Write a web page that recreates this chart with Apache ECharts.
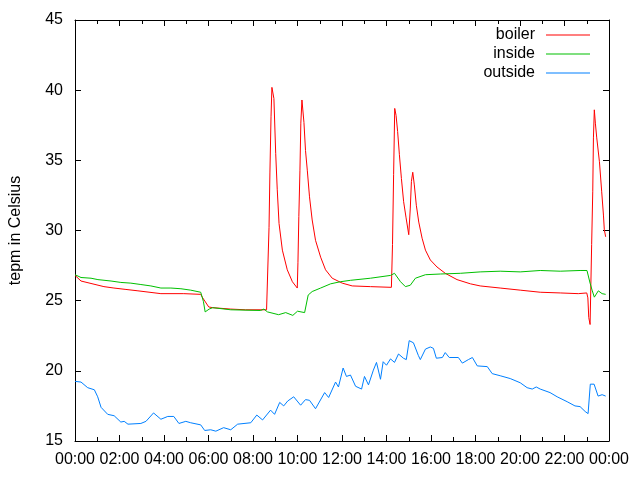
<!DOCTYPE html>
<html>
<head>
<meta charset="utf-8">
<title>temperatures</title>
<script src="https://cdn.jsdelivr.net/npm/echarts@6/dist/echarts.min.js"></script>
<style>
  html, body { margin: 0; padding: 0; background: #fff; }
  #chart { width: 640px; height: 480px; }
</style>
</head>
<body>
<div id="chart"></div>
<script>
  /* hours of the day (0-24) and temperatures */
  var boilerHours = [0.00, 0.04, 0.27, 1.30, 1.75, 2.29, 2.83, 3.86, 4.89, 5.65, 5.74, 6.01, 6.19, 7.00, 7.67, 8.61,
    8.67, 8.72, 8.76, 8.81, 8.85, 8.94, 9.02, 9.09, 9.17, 9.32, 9.54, 9.77, 9.99,
    10.02, 10.06, 10.11, 10.15, 10.20, 10.29, 10.36, 10.44, 10.54, 10.66, 10.81, 11.04, 11.26, 11.56, 12.01, 12.46, 13.28, 14.22,
    14.27, 14.32, 14.37, 14.43, 14.50, 14.58, 14.67, 14.77, 14.88, 15.00, 15.07, 15.12, 15.18, 15.25, 15.34, 15.45, 15.60, 15.75,
    15.97, 16.27, 16.64, 17.17, 17.77, 18.21, 19.11, 20.01, 20.91, 21.81, 22.62, 23.00, 23.05, 23.09, 23.15, 23.18,
    23.22, 23.27, 23.30, 23.34, 23.39, 23.45, 23.57, 23.67, 23.75, 23.79, 23.85];
  var boilerTemps = [26.8, 26.8, 26.4, 26.0, 25.9, 25.8, 25.7, 25.5, 25.5, 25.45, 25.2, 24.55, 24.5, 24.4, 24.35, 24.35,
    24.3, 30.2, 34.1, 38.1, 40.2, 39.4, 35.5, 32.9, 30.5, 28.6, 27.2, 26.35, 25.9,
    27.7, 31.0, 34.3, 37.65, 39.3, 37.7, 35.7, 34.3, 32.4, 30.75, 29.3, 28.1, 27.2, 26.6, 26.25, 26.05, 26.0, 25.95,
    29.0, 34.0, 38.7, 38.2, 37.05, 35.4, 33.7, 32.05, 30.9, 29.7, 31.6, 33.5, 34.15, 33.25, 31.8, 30.6, 29.45, 28.6,
    27.9, 27.4, 26.95, 26.5, 26.2, 26.05, 25.9, 25.75, 25.6, 25.55, 25.5, 25.55, 25.2, 23.8, 23.3, 23.3,
    29.0, 32.8, 36.6, 38.6, 37.6, 36.6, 34.9, 32.8, 31.1, 30.05, 29.55];

  var insideHours = [0.00, 0.27, 0.72, 1.03, 1.62, 2.06, 2.51, 2.96, 3.41, 3.86, 4.31, 4.76, 5.20, 5.65, 5.77, 5.85,
    6.03, 6.19, 7.00, 8.34, 8.49, 8.65, 8.72, 9.15, 9.47, 9.79, 10.00, 10.32, 10.48, 10.66, 11.04, 11.49, 11.93,
    12.38, 13.28, 14.18, 14.36, 14.63, 14.85, 15.07, 15.30, 15.75, 16.42, 17.32, 18.21, 19.11, 20.01, 20.91, 21.81,
    22.70, 23.01, 23.15, 23.24, 23.34, 23.52, 23.69, 23.85];
  var insideTemps = [26.85, 26.65, 26.6, 26.5, 26.4, 26.3, 26.25, 26.15, 26.05, 25.9, 25.9, 25.85, 25.75, 25.6, 24.95, 24.2,
    24.4, 24.5, 24.35, 24.3, 24.4, 24.2, 24.15, 24.0, 24.15, 23.95, 24.25, 24.15, 25.4, 25.65, 25.9, 26.2, 26.35,
    26.45, 26.6, 26.8, 26.95, 26.35, 26.0, 26.1, 26.6, 26.85, 26.9, 26.95, 27.05, 27.1, 27.05, 27.15, 27.1,
    27.15, 27.15, 26.25, 25.75, 25.25, 25.7, 25.5, 25.45];

  var outsideHours = [0.00, 0.27, 0.57, 0.87, 1.02, 1.17, 1.47, 1.76, 2.06, 2.21, 2.38, 2.96, 3.19, 3.53, 3.86, 4.17,
    4.44, 4.67, 4.98, 5.20, 5.65, 5.83, 6.10, 6.33, 6.68, 7.00, 7.31, 7.90, 8.17, 8.43, 8.79, 8.97, 9.20, 9.38,
    9.56, 9.83, 10.14, 10.36, 10.54, 10.81, 11.22, 11.40, 11.71, 11.84, 12.05, 12.20, 12.38, 12.61, 12.88, 13.01,
    13.19, 13.41, 13.55, 13.73, 13.85, 14.00, 14.18, 14.36, 14.54, 14.76, 14.89, 15.02, 15.21, 15.43, 15.52, 15.75,
    15.97, 16.11, 16.24, 16.51, 16.64, 16.82, 17.23, 17.41, 17.68, 17.86, 18.08, 18.53, 18.75, 19.11, 19.56, 20.01,
    20.32, 20.55, 20.73, 20.91, 21.35, 21.67, 22.12, 22.47, 22.70, 22.93, 23.06, 23.16, 23.33, 23.51, 23.69, 23.85];
  var outsideTemps = [19.25, 19.2, 18.8, 18.65, 18.15, 17.4, 16.9, 16.8, 16.35, 16.4, 16.2, 16.25, 16.4, 17.0, 16.55, 16.75,
    16.75, 16.25, 16.4, 16.3, 16.15, 15.75, 15.8, 15.7, 15.95, 15.8, 16.2, 16.3, 16.85, 16.5, 17.2, 16.9, 17.75, 17.5,
    17.85, 18.15, 17.55, 17.95, 17.9, 17.3, 18.45, 18.1, 19.2, 18.85, 20.2, 19.6, 19.7, 18.9, 18.7, 19.6,
    19.0, 20.05, 20.6, 19.4, 20.65, 20.4, 20.85, 20.6, 21.2, 20.9, 20.8, 22.15, 22.0, 21.1, 20.8, 21.55,
    21.7, 21.6, 20.9, 20.95, 21.3, 20.95, 20.95, 20.55, 20.8, 20.95, 20.35, 20.3, 19.8, 19.65, 19.45, 19.15,
    18.8, 18.7, 18.85, 18.7, 18.45, 18.15, 17.8, 17.5, 17.45, 17.1, 16.95, 19.05, 19.05, 18.2, 18.3, 18.2];

  var seriesNames = ['boiler', 'inside', 'outside'];
  var seriesColors = ['#ff0000', '#00c000', '#0080ff'];

  function pairs(xs, ys) {
    var out = [];
    xs.forEach(function (x, i) {
      out.push([x, ys[i]]);
    });
    return out;
  }

  function hourLabel(v) {
    var h = Math.round(v) % 24;
    return (h < 10 ? '0' : '') + h + ':00';
  }

  var font = 'Liberation Sans';

  /* shared axis look: black frame, ticks pointing in */
  function xAxisCfg(pos, labels) {
    return {
      type: 'value',
      position: pos,
      min: 0,
      max: 24,
      interval: 2,
      axisLine: {onZero: false, lineStyle: {color: '#000', width: 1}},
      axisTick: {inside: true, length: 6, lineStyle: {color: '#000'}},
      minorTick: {show: true, splitNumber: 2, length: 4, lineStyle: {color: '#000'}},
      splitLine: {show: false},
      axisLabel: {
        show: labels,
        color: '#000',
        fontFamily: font,
        fontSize: 16,
        margin: 11,
        formatter: hourLabel
      }
    };
  }

  function yAxisCfg(pos, labels) {
    var cfg = {
      type: 'value',
      position: pos,
      min: 15,
      max: 45,
      interval: 5,
      axisLine: {show: true, onZero: false, lineStyle: {color: '#000', width: 1}},
      axisTick: {show: true, inside: true, length: 6, lineStyle: {color: '#000'}},
      splitLine: {show: false},
      axisLabel: {show: labels, color: '#000', fontFamily: font, fontSize: 16, margin: 12}
    };
    if (labels) {
      cfg.name = 'tepm in Celsius';
      cfg.nameLocation = 'middle';
      cfg.nameGap = 51;
      cfg.nameTextStyle = {color: '#000', fontFamily: font, fontSize: 16};
    }
    return cfg;
  }

  var series = [
    pairs(boilerHours, boilerTemps),
    pairs(insideHours, insideTemps),
    pairs(outsideHours, outsideTemps)
  ].map(function (data, i) {
    return {
      type: 'line',
      name: seriesNames[i],
      data: data,
      symbol: 'none',
      animation: false,
      lineStyle: {color: seriesColors[i], width: 1},
      itemStyle: {color: seriesColors[i]}
    };
  });

  var chart = echarts.init(document.getElementById('chart'));
  chart.setOption({
    animation: false,
    backgroundColor: '#fff',
    grid: {left: 74, right: 31, top: 20, bottom: 39},
    legend: {
      data: seriesNames,
      orient: 'vertical',
      align: 'right',
      right: 45,
      top: 22,
      itemWidth: 44,
      itemHeight: 14,
      itemGap: 3,
      icon: 'path://M0,0 L44,0 L44,1 L0,1 Z',
      textStyle: {color: '#000', fontFamily: font, fontSize: 16, padding: [0, 6, 0, 0]}
    },
    xAxis: [xAxisCfg('bottom', true), xAxisCfg('top', false)],
    yAxis: [yAxisCfg('left', true), yAxisCfg('right', false)],
    series: series
  });
</script>
</body>
</html>
